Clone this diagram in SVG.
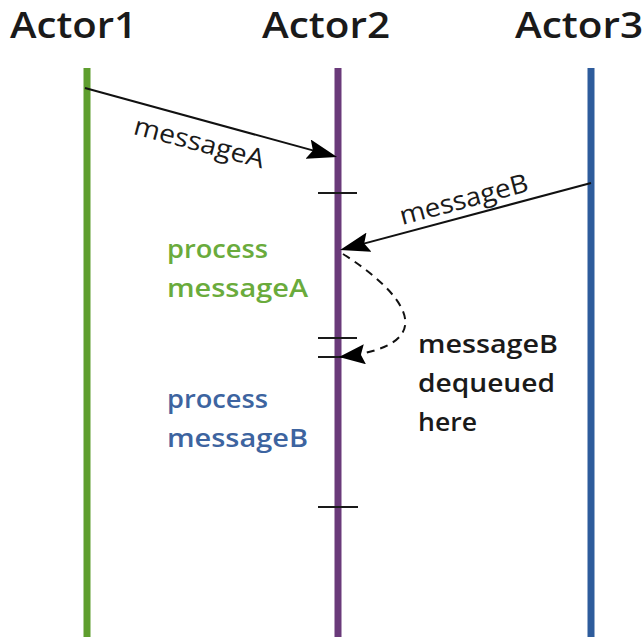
<svg xmlns="http://www.w3.org/2000/svg" width="644" height="637" viewBox="0 0 644 637">
<style>
.actor{font-family:"Open Sans","Liberation Sans",sans-serif;font-weight:600;font-size:36px;fill:#1a1a1a}
.msg{font-family:"Open Sans","Liberation Sans",sans-serif;font-weight:500;font-size:26px;fill:#1a1a1a}
.note{font-family:"Open Sans","Liberation Sans",sans-serif;font-weight:600;font-size:26px}
.life{stroke-width:7;fill:none}
.tick{stroke:#1a1a1a;stroke-width:2}
.arrow{stroke:#111;stroke-width:2;fill:none}
</style>
<defs>
<marker id="head" markerUnits="userSpaceOnUse" viewBox="0 0 30 20" markerWidth="30" markerHeight="20" refX="20" refY="10" orient="auto">
<path d="M0,0 L30,10 L0,20 L5,10 Z" fill="#000"/>
</marker>
<marker id="headTip" markerUnits="userSpaceOnUse" viewBox="0 0 26 20" markerWidth="26" markerHeight="20" refX="25" refY="10" orient="auto">
<path d="M0,0 L26,10 L0,20 L4,10 Z" fill="#000"/>
</marker>
</defs>
<rect width="644" height="637" fill="#fff"/>
<g id="actor1">
<text class="actor" x="10" y="38" textLength="127" lengthAdjust="spacingAndGlyphs">Actor1</text>
<line class="life" x1="87" y1="68" x2="87" y2="637" stroke="#5e9e2e"/>
</g>
<g id="actor2">
<text class="actor" x="262" y="38" textLength="128" lengthAdjust="spacingAndGlyphs">Actor2</text>
<line class="life" x1="338" y1="68" x2="338" y2="637" stroke="#6a3a7a"/>
</g>
<g id="actor3">
<text class="actor" x="515" y="38" textLength="128" lengthAdjust="spacingAndGlyphs">Actor3</text>
<line class="life" x1="591" y1="68" x2="591" y2="637" stroke="#2e5c9c"/>
</g>
<g id="ticks">
<line class="tick" x1="318" y1="193" x2="357" y2="193"/>
<line class="tick" x1="318" y1="338" x2="357" y2="338"/>
<line class="tick" x1="318" y1="357" x2="357" y2="357"/>
<line class="tick" x1="318" y1="507" x2="358" y2="507"/>
</g>
<g id="processA">
<text class="note" fill="#6aab3c" x="167" y="258" textLength="101" lengthAdjust="spacingAndGlyphs">process</text>
<text class="note" fill="#6aab3c" x="167" y="297" textLength="141" lengthAdjust="spacingAndGlyphs">messageA</text>
</g>
<g id="processB">
<text class="note" fill="#3d64a0" x="167" y="408" textLength="101" lengthAdjust="spacingAndGlyphs">process</text>
<text class="note" fill="#3d64a0" x="167" y="447" textLength="141" lengthAdjust="spacingAndGlyphs">messageB</text>
</g>
<g id="dequeueNote">
<text class="note" fill="#1a1a1a" x="418" y="353" textLength="140" lengthAdjust="spacingAndGlyphs">messageB</text>
<text class="note" fill="#1a1a1a" x="418" y="392" textLength="137" lengthAdjust="spacingAndGlyphs">dequeued</text>
<text class="note" fill="#1a1a1a" x="418" y="431" textLength="59" lengthAdjust="spacingAndGlyphs">here</text>
</g>
<g id="connectors">
<line class="arrow" x1="85" y1="88" x2="327.4" y2="154.4" marker-end="url(#head)"/>
<text class="msg" transform="translate(197,151) rotate(15)" text-anchor="middle" textLength="134" lengthAdjust="spacingAndGlyphs">messageA</text>
<line class="arrow" x1="591" y1="183" x2="349.7" y2="247.4" marker-end="url(#head)"/>
<text class="msg" transform="translate(466,208) rotate(-15)" text-anchor="middle" textLength="132" lengthAdjust="spacingAndGlyphs">messageB</text>
<path class="arrow" d="M343,254 C400,290 450,345 340,357" stroke-dasharray="8,6" marker-end="url(#headTip)"/>
</g>
</svg>
